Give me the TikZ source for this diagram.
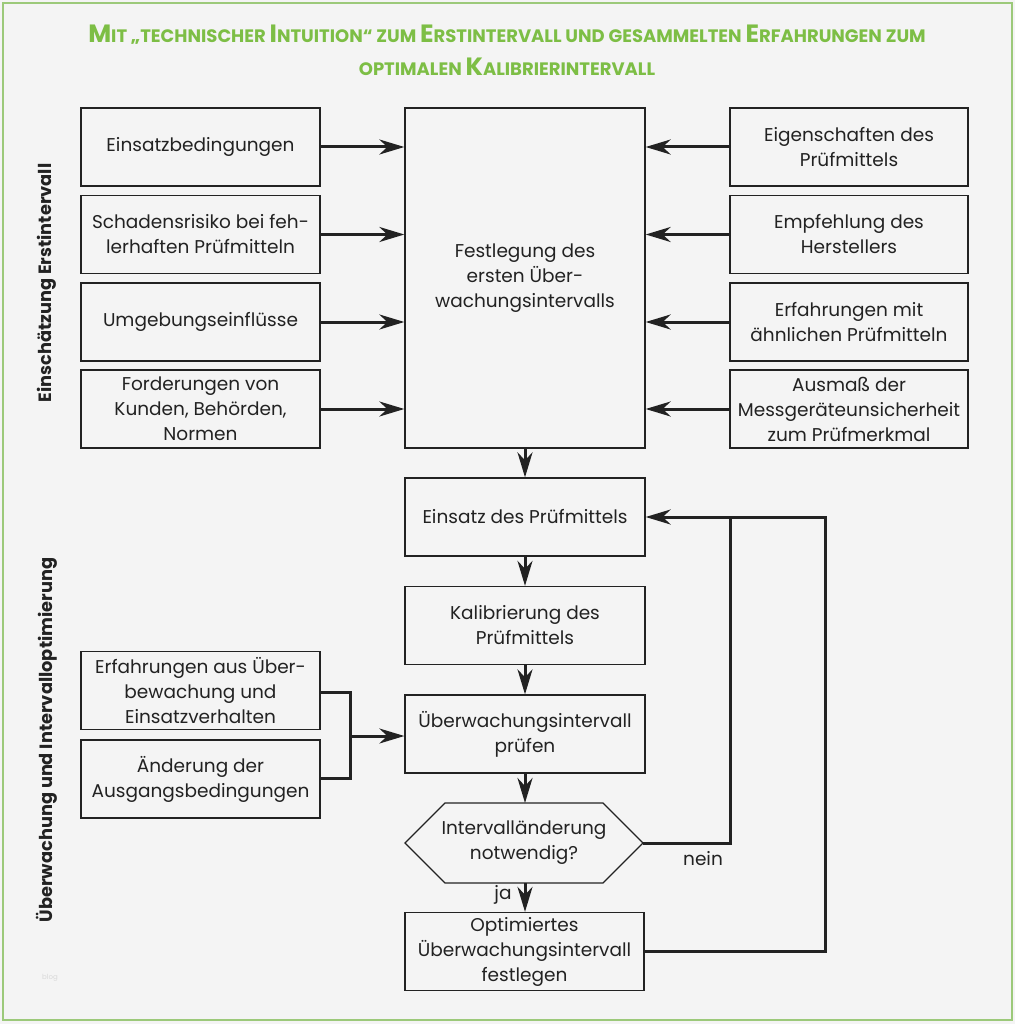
\documentclass[tikz,border=0pt]{standalone}
\usepackage{fontspec}
\setmainfont{Poppins}
\usetikzlibrary{arrows.meta}
\definecolor{bg}{HTML}{F4F4F4}
\definecolor{frame}{HTML}{9CC97A}
\definecolor{titlegreen}{HTML}{7DBE45}
\definecolor{ink}{HTML}{222222}
\newcommand\bodyfont{\fontsize{18.5}{25}\selectfont}
\newcommand\BigC[1]{{\fontsize{25}{30}\selectfont #1}}
\tikzset{
  box/.style={draw=ink, line width=1.3pt, minimum width=239pt, minimum height=78pt,
    align=center, inner sep=0pt, text=ink, font=\bodyfont},
  bigbox/.style={box, minimum height=340pt},
  arr/.style={draw=ink, line width=3pt, -{Stealth[length=25pt,width=15pt,inset=8pt]}},
  conn/.style={draw=ink, line width=3pt},
  sidelabel/.style={rotate=90, font=\bfseries\fontsize{17.8}{20}\selectfont, text=ink},
}
\begin{document}
\begin{tikzpicture}[x=1pt,y=-1pt]
\useasboundingbox (0,0) rectangle (1015,1024);
\fill[bg] (0,0) rectangle (1015,1024);
\draw[frame, line width=2.5pt] (3,3) rectangle (1012,1020);

\node[font=\bfseries\fontsize{18}{33}\selectfont, text=titlegreen, align=center] (title) at (507,50)
 {\BigC{M}IT „TECHNISCHER \BigC{I}NTUITION“ ZUM \BigC{E}RSTINTERVALL UND GESAMMELTEN \BigC{E}RFAHRUNGEN ZUM\\
  OPTIMALEN \BigC{K}ALIBRIERINTERVALL};

\node[sidelabel] (lab1) at (47,283) {Einschätzung Erstintervall};
\node[sidelabel] (lab2) at (47,740) {Überwachung und Intervalloptimierung};
\node[text=black!15, font=\fontsize{7}{8}\selectfont] (blog) at (50,978) {blog};

% left column
\node[box] (l1) at (200.5,147) {Einsatzbedingungen};
\node[box] (l2) at (200.5,234.5) {Schadensrisiko bei feh-\\lerhaften Prüfmitteln};
\node[box] (l3) at (200.5,322) {Umgebungseinflüsse};
\node[box] (l4) at (200.5,409) {Forderungen von\\Kunden, Behörden,\\Normen};

% center
\node[bigbox, minimum width=240pt] (c) at (525,278) {Festlegung des\\ersten Über-\\wachungsintervalls};

% right column
\node[box, minimum width=238pt] (r1) at (849,147) {Eigenschaften des\\Prüfmittels};
\node[box, minimum width=238pt] (r2) at (849,234.5) {Empfehlung des\\Herstellers};
\node[box, minimum width=238pt] (r3) at (849,322) {Erfahrungen mit\\ähnlichen Prüfmitteln};
\node[box, minimum width=238pt] (r4) at (849,409) {Ausmaß der\\Messgeräteunsicherheit\\zum Prüfmerkmal};

\foreach \i in {1,...,4}{
  \draw[arr] (l\i.east) -- (l\i.east -| c.west);
  \draw[arr] (r\i.west) -- (r\i.west -| c.east);
}

% process chain
\node[box, minimum width=240pt] (e) at (525,517) {Einsatz des Prüfmittels};
\node[box, minimum width=240pt] (k) at (525,625.5) {Kalibrierung des\\Prüfmittels};
\node[box, minimum width=240pt] (p) at (525,734) {Überwachungsintervall\\prüfen};

\coordinate (hW) at (405,843);
\coordinate (hNW) at (445,803);
\coordinate (hNE) at (603,803);
\coordinate (hE) at (643,843);
\coordinate (hSE) at (603,883);
\coordinate (hSW) at (445,883);
\coordinate (hN) at (525,803);
\coordinate (hS) at (525,883);
\draw[ink, line width=1.3pt] (hW) -- (hNW) -- (hNE) -- (hE) -- (hSE) -- (hSW) -- cycle;
\node[align=center, text=ink, font=\bodyfont] (h) at (524,843) {Intervalländerung\\notwendig?};

\node[box, minimum width=239pt] (o) at (524.5,951.5) {Optimiertes\\Überwachungsintervall\\festlegen};

\draw[arr] (c.south) -- (e.north);
\draw[arr] (e.south) -- (k.north);
\draw[arr] (k.south) -- (p.north);
\draw[arr] (p.south) -- (hN);
\draw[arr] (hS) -- (o.north -| hS);
\node[text=ink, font=\bodyfont] (ja) at (503,895) {ja};
\node[text=ink, font=\bodyfont] (nein) at (703,859) {nein};

\coordinate (j1) at (730,517);
\coordinate (j2) at (825,517);
\draw[conn] (hE) -| (j1);
\draw[arr] (o.east) -| (j2) -- (e.east);

% bottom left inputs
\node[box] (b1) at (200.5,690.5) {Erfahrungen aus Über-\\bewachung und\\Einsatzverhalten};
\node[box] (b2) at (200.5,779) {Änderung der\\Ausgangsbedingungen};
\coordinate (br) at (350,736);
\draw[conn] (b1.east |- 0,692) -| (350,778) -- (b2.east |- 0,778);
\draw[arr] (br) -- (br -| p.west);
\end{tikzpicture}
\end{document}
